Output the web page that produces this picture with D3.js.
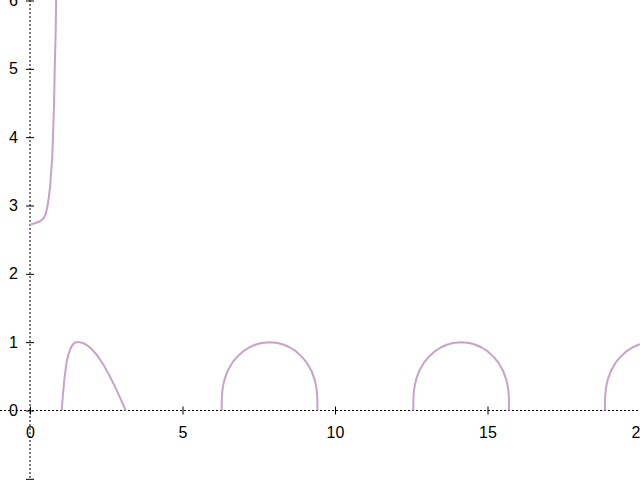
<!DOCTYPE html>
<html><head><meta charset="utf-8">
<script src="https://cdn.jsdelivr.net/npm/d3@7"></script>
<style>html,body{margin:0;padding:0;background:#fff;overflow:hidden}</style>
</head><body>
<svg id="c" width="640" height="480"></svg>
<script>
// ---- data ----
const xTicks = [0, 5, 10, 15, 20];
const yTicks = [-1, 0, 1, 2, 3, 4, 5, 6];
const yTickLabels = ["", "0", "1", "2", "3", "4", "5", "6"];

const seg1X = [0, 0.16, 0.33, 0.44, 0.52, 0.58, 0.62, 0.66, 0.69, 0.73, 0.76, 0.79, 0.81, 0.84, 0.86];
const seg1Y = [2.72, 2.74, 2.77, 2.81, 2.88, 3.01, 3.13, 3.28, 3.47, 3.71, 4.1, 4.5, 5.0, 5.5, 6.1];

const seg2X = [1.04, 1.06, 1.08, 1.13, 1.20, 1.26, 1.31, 1.36, 1.42, 1.48, 1.53, 1.571, 1.65, 1.75, 1.85, 2.0, 2.2, 2.4, 2.6, 2.8, 3.0, 3.1, 3.14];
const seg2Y = [0, 0.12, 0.23, 0.47, 0.71, 0.82, 0.885, 0.935, 0.975, 0.994, 0.999, 1.0, 0.997, 0.984, 0.961, 0.909, 0.808, 0.675, 0.516, 0.335, 0.141, 0.042, 0];

const arcY = [0, 0.171, 0.271, 0.368, 0.464, 0.583, 0.70, 0.781, 0.864, 0.922, 0.962, 0.988, 1, 0.988, 0.962, 0.922, 0.864, 0.781, 0.70, 0.583, 0.464, 0.368, 0.271, 0.171, 0];
const arc1X = [6.283, 6.288, 6.303, 6.333, 6.383, 6.483, 6.633, 6.783, 6.983, 7.183, 7.383, 7.583, 7.854, 8.124, 8.324, 8.525, 8.725, 8.925, 9.075, 9.225, 9.325, 9.375, 9.405, 9.420, 9.425];
const arc2X = [12.566, 12.571, 12.586, 12.616, 12.666, 12.766, 12.916, 13.066, 13.266, 13.466, 13.666, 13.866, 14.137, 14.407, 14.607, 14.808, 15.008, 15.208, 15.358, 15.508, 15.608, 15.658, 15.688, 15.703, 15.708];
const arc3X = [18.850, 18.855, 18.870, 18.900, 18.950, 19.050, 19.200, 19.350, 19.550, 19.750, 19.950, 20.0];
const arc3Y = [0, 0.171, 0.271, 0.368, 0.464, 0.583, 0.70, 0.781, 0.864, 0.922, 0.962, 0.970];

const series = [
  [seg1X, seg1Y], [seg2X, seg2Y], [arc1X, arcY], [arc2X, arcY], [arc3X, arc3Y]
];

// ---- drawing ----
const W = 640, H = 480;
const svg = d3.select("#c");
const x = d3.scaleLinear().domain([0, 20]).range([30, 640]);
const y = d3.scaleLinear().domain([0, 6]).range([410.5, 0.5]);
const font = "'Liberation Sans', Arial, sans-serif";

// zero axes (dotted)
svg.append("line").attr("x1", 0).attr("x2", W).attr("y1", y(0)).attr("y2", y(0))
  .attr("stroke", "#000").attr("stroke-width", 1).attr("stroke-dasharray", "2,2");
svg.append("line").attr("x1", x(0)).attr("x2", x(0)).attr("y1", 0).attr("y2", H)
  .attr("stroke", "#000").attr("stroke-width", 1).attr("stroke-dasharray", "2,2");

// x axis
const gx = svg.append("g").attr("transform", `translate(0,${y(0)})`)
  .call(d3.axisBottom(x).tickValues(xTicks).tickFormat(d3.format("d")).tickSize(4).tickPadding(12));
gx.select(".domain").remove();
gx.selectAll(".tick line").attr("y1", -4).attr("y2", 4).attr("stroke", "#000");
gx.selectAll(".tick text").attr("font-family", font).attr("font-size", 16).attr("fill", "#000");

// y axis
const gy = svg.append("g").attr("transform", `translate(${x(0)},0)`)
  .call(d3.axisLeft(y).tickValues(yTicks).tickFormat((d, i) => yTickLabels[i]).tickSize(4).tickPadding(8));
gy.select(".domain").remove();
gy.selectAll(".tick line").attr("x1", -4).attr("x2", 4).attr("stroke", "#000");
gy.selectAll(".tick text").attr("font-family", font).attr("font-size", 16).attr("fill", "#000");

// clip
svg.append("clipPath").attr("id", "clip").append("rect")
  .attr("x", 0).attr("y", 0).attr("width", W).attr("height", H);

const line = d3.line().x(d => x(d[0])).y(d => y(d[1]));
svg.append("g").attr("clip-path", "url(#clip)")
  .selectAll("path").data(series).join("path")
  .attr("d", s => line(s[0].map((v, i) => [v, s[1][i]])))
  .attr("fill", "none").attr("stroke", "#c8a2c8").attr("stroke-width", 2)
  .attr("stroke-linejoin", "round");
</script>
</body></html>
